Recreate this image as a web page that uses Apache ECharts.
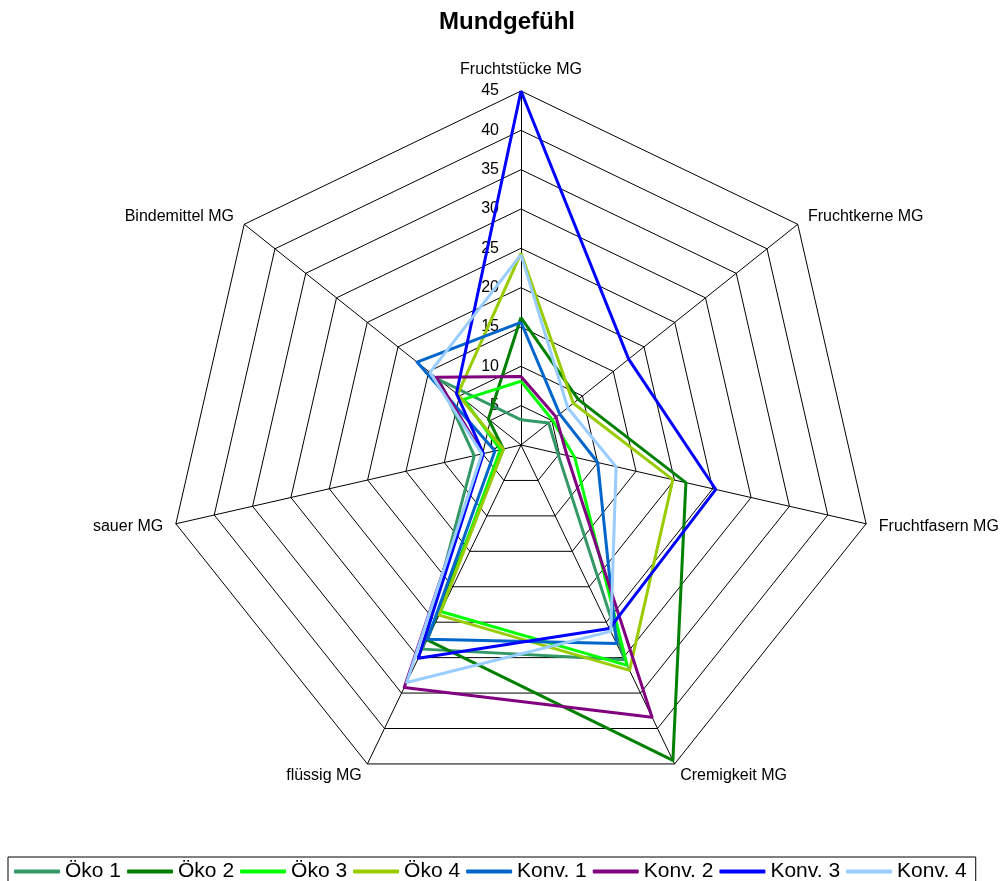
<!DOCTYPE html>
<html>
<head>
<meta charset="utf-8">
<script src="https://cdn.jsdelivr.net/npm/echarts@6/dist/echarts.min.js"></script>
<style>
html,body{margin:0;padding:0;background:#fff;}
#chart{width:1004px;height:881px;}
</style>
</head>
<body>
<div id="chart"></div>
<script>
// Axes in clockwise order starting at the top
const categories = ['Fruchtstücke MG', 'Fruchtkerne MG', 'Fruchtfasern MG', 'Cremigkeit MG', 'flüssig MG', 'sauer MG', 'Bindemittel MG'];
const axisMax = 45;
const tickLabels = ['0', '5', '10', '15', '20', '25', '30', '35', '40', '45'];

const seriesNames = ['Öko 1', 'Öko 2', 'Öko 3', 'Öko 4', 'Konv. 1', 'Konv. 2', 'Konv. 3', 'Konv. 4'];
const oeko1  = [3.2, 4.5, 4.8, 30.3, 28.8, 6.1, 13.3];
const oeko2  = [16.2, 9.3, 21.5, 44.5, 27.5, 2.3, 5.3];
const oeko3  = [8.1, 5.1, 7.0, 31.1, 23.5, 2.7, 9.3];
const oeko4  = [24.4, 8.5, 19.8, 31.8, 24.0, 2.3, 10.3];
const konv1  = [15.6, 6.3, 10.0, 28.0, 27.4, 3.4, 16.9];
const konv2  = [8.7, 5.7, 6.0, 38.4, 34.2, 5.0, 13.8];
const konv3  = [45.0, 17.5, 25.4, 25.9, 30.1, 4.9, 10.5];
const konv4  = [24.2, 7.6, 12.4, 26.3, 33.5, 5.1, 14.8];
const seriesValues = [oeko1, oeko2, oeko3, oeko4, konv1, konv2, konv3, konv4];
const colors = ['#339966', '#008000', '#00FF00', '#99CC00', '#0066CC', '#800080', '#0000FF', '#99CCFF'];

// ECharts lays radar indicators counter-clockwise; reorder so the picture runs clockwise
const order = [0, 6, 5, 4, 3, 2, 1];
const FONT = '"Liberation Sans", Arial, sans-serif';

const indicators = order.map((i, k) => ({
  name: categories[i],
  min: 0,
  max: axisMax,
  axisLabel: { show: k === 0 }
}));

const chart = echarts.init(document.getElementById('chart'), null, { renderer: 'canvas' });
chart.setOption({
  animation: false,
  backgroundColor: '#fff',
  title: {
    text: 'Mundgefühl',
    left: 439,
    top: 10,
    padding: 0,
    textStyle: { fontFamily: FONT, fontSize: 24, fontWeight: 'bold', color: '#000' }
  },
  legend: {
    data: seriesNames,
    left: 8,
    top: 857,
    orient: 'horizontal',
    padding: [4, 9, 4, 6],
    borderColor: '#000',
    borderWidth: 1,
    itemWidth: 46,
    itemHeight: 4,
    itemGap: 6,
    icon: 'roundRect',
    textStyle: { fontFamily: FONT, fontSize: 21, color: '#000' }
  },
  radar: {
    center: [521, 445],
    radius: 354,
    startAngle: 90,
    splitNumber: 9,
    shape: 'polygon',
    indicator: indicators,
    nameGap: 13,
    axisName: { color: '#000', fontFamily: FONT, fontSize: 16 },
    axisLine: { lineStyle: { color: '#000', width: 1 } },
    splitLine: { lineStyle: { color: '#000', width: 1 } },
    splitArea: { show: false },
    axisTick: { show: false },
    axisLabel: {
      show: false,
      color: '#000',
      fontFamily: FONT,
      fontSize: 16,
      margin: 22,
      formatter: function (v) {
        const idx = Math.round(v / 5);
        return tickLabels[idx] !== undefined ? tickLabels[idx] : '';
      }
    }
  },
  series: seriesNames.map((name, s) => ({
    name: name,
    type: 'radar',
    symbol: 'none',
    lineStyle: { width: 3, color: colors[s] },
    itemStyle: { color: colors[s] },
    data: [{ name: name, value: order.map(i => seriesValues[s][i]) }]
  }))
});
</script>
</body>
</html>
